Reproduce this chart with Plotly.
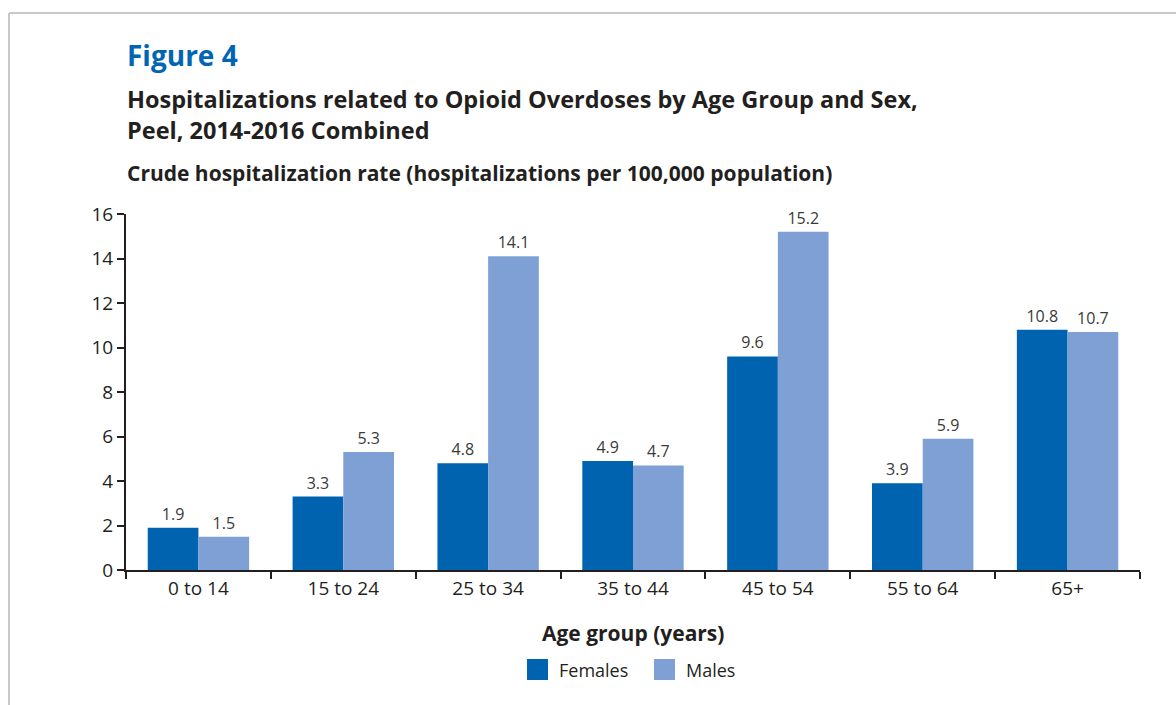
import plotly.graph_objects as go

# Hospitalization rates per 100,000 by age group
age_groups = ["0 to 14", "15 to 24", "25 to 34", "35 to 44", "45 to 54", "55 to 64", "65+"]
females = [1.9, 3.3, 4.8, 4.9, 9.6, 3.9, 10.8]
males = [1.5, 5.3, 14.1, 4.7, 15.2, 5.9, 10.7]
y_ticks = [0, 2, 4, 6, 8, 10, 12, 14, 16]
series_names = ["Females", "Males"]

FEMALE_COLOR = "#0063b0"
MALE_COLOR = "#7fa0d4"
TEXT_DARK = "#231f20"
FONT = "Open Sans"

W, H = 1176, 705
L, R, T, B = 126, 36, 214, 135
plot_w = W - L - R
plot_h = H - T - B


def px_x(x):
    return (x - L) / plot_w


def px_y(y):
    return (H - B - y) / plot_h


fig = go.Figure()

for name, vals, color in [(series_names[0], females, FEMALE_COLOR), (series_names[1], males, MALE_COLOR)]:
    fig.add_trace(go.Bar(
        x=age_groups, y=vals, name=name,
        marker=dict(color=color, line=dict(width=0)),
        text=[f"{v:.1f}" for v in vals],
        textposition="outside",
        textfont=dict(family=FONT, size=16, color="#3a3a3a"),
        cliponaxis=False,
        showlegend=False,
    ))

# Legend: square swatches plus labels beneath the axis title
legend_shapes = []
legend_notes = []
swatch_left = [527, 654]
for name, color, x0 in zip(series_names, [FEMALE_COLOR, MALE_COLOR], swatch_left):
    legend_shapes.append(dict(
        type="rect", xref="paper", yref="paper",
        x0=px_x(x0), x1=px_x(x0 + 21), y0=px_y(680), y1=px_y(659),
        fillcolor=color, line=dict(width=0),
    ))
    legend_notes.append(dict(
        text=name, xref="paper", yref="paper",
        x=px_x(x0 + 30), y=px_y(670), xanchor="left", yanchor="middle",
        showarrow=False, font=dict(family=FONT, size=18, color=TEXT_DARK),
    ))

frame = [
    dict(type="line", xref="paper", yref="paper",
         x0=px_x(9), x1=px_x(W + 5), y0=px_y(13), y1=px_y(13),
         line=dict(color="#c8c8c8", width=2)),
    dict(type="line", xref="paper", yref="paper",
         x0=px_x(9), x1=px_x(9), y0=px_y(13), y1=px_y(H + 5),
         line=dict(color="#c8c8c8", width=2)),
]


def heading(text, y, size, color=TEXT_DARK):
    return dict(text=f"<b>{text}</b>", xref="paper", yref="paper",
                x=px_x(125), y=px_y(y), xanchor="left", yanchor="middle",
                align="left", showarrow=False,
                font=dict(family=FONT, size=size, color=color))


fig.update_layout(
    width=W, height=H,
    margin=dict(l=L, r=R, t=T, b=B, pad=0),
    paper_bgcolor="white", plot_bgcolor="white",
    barmode="group", bargap=0.30, bargroupgap=0,
    font=dict(family=FONT, color=TEXT_DARK, size=18),
    showlegend=False,
    xaxis=dict(
        type="category",
        showline=True, linecolor=TEXT_DARK, linewidth=2,
        ticks="outside", tickson="boundaries", ticklen=7, tickwidth=2, tickcolor=TEXT_DARK,
        tickfont=dict(family=FONT, size=19, color=TEXT_DARK),
        showgrid=False, zeroline=False,
    ),
    yaxis=dict(
        range=[0, 16], tickvals=y_ticks,
        showline=True, linecolor=TEXT_DARK, linewidth=2,
        ticks="outside", ticklen=7, tickwidth=2, tickcolor=TEXT_DARK,
        tickfont=dict(family=FONT, size=19, color=TEXT_DARK),
        showgrid=False, zeroline=False,
    ),
    shapes=frame + legend_shapes,
    annotations=[
        heading("Figure 4", 55, 28, "#0066b3"),
        heading("Hospitalizations related to Opioid Overdoses by Age Group and Sex,<br>"
                "Peel, 2014-2016 Combined", 114, 23.5),
        heading("Crude hospitalization rate (hospitalizations per 100,000 population)", 173, 21),
        dict(text="<b>Age group (years)</b>", xref="paper", yref="paper",
             x=0.5, y=px_y(633), xanchor="center", yanchor="middle",
             showarrow=False, font=dict(family=FONT, size=21, color=TEXT_DARK)),
    ] + legend_notes,
)

fig.write_html("out.html")
